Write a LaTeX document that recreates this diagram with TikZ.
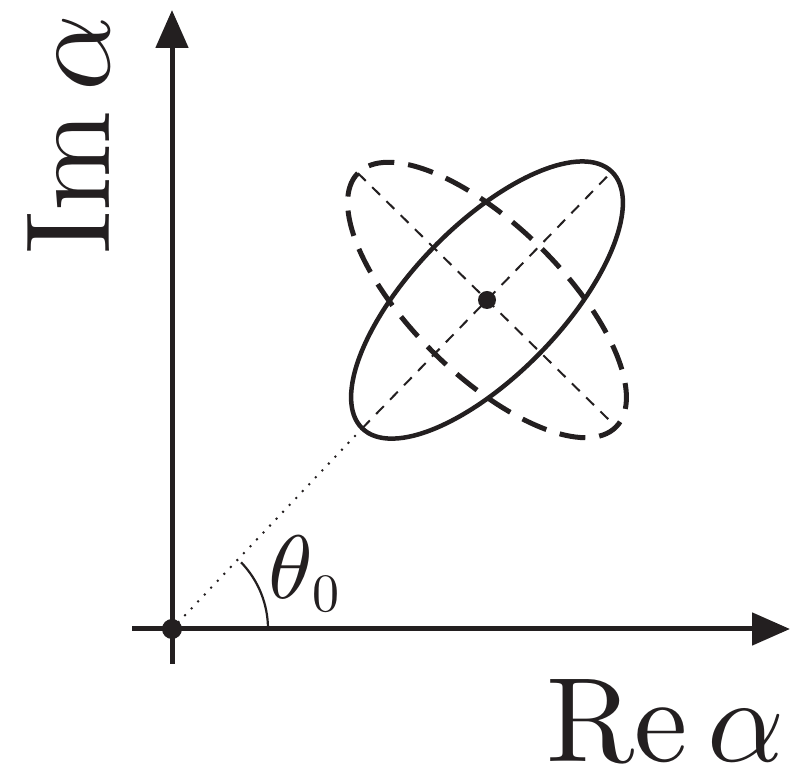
\documentclass[tikz,border=0pt]{standalone}
\usepackage{graphicx}
\usetikzlibrary{arrows.meta,calc}
\definecolor{ink}{HTML}{231F20}
\begin{document}
\begin{tikzpicture}[x=1pt,y=1pt,
  axisline/.style={line width=5pt, draw=ink, -{Triangle[length=38pt,width=32pt]}},
  ellsolid/.style={line width=4.5pt, draw=ink},
  elldash/.style={line width=5pt, draw=ink, dash pattern=on 26pt off 14pt},
  thindash/.style={line width=2pt, draw=ink, dash pattern=on 11pt off 9pt},
  dotline/.style={line width=2.8pt, draw=ink, line cap=round, dash pattern=on 0pt off 9.5pt},
  arcline/.style={line width=2.2pt, draw=ink},
  bigdot/.style={fill=ink},
  lbl/.style={inner sep=0pt, text=ink}]
\useasboundingbox (0,0) rectangle (796,773);
% key points
\coordinate (O) at (172,144);
\coordinate (C) at (487,473);
\coordinate (Ybot) at (172,109);
\coordinate (Ytop) at (172,763);
\coordinate (Xl) at (132,144);
\coordinate (Xr) at (790,144);
\coordinate (S1) at ($(C)+(45.8:179)$);
\coordinate (S2) at ($(C)+(225.8:179)$);
\coordinate (D1) at ($(C)+(135.5:181)$);
\coordinate (D2) at ($(C)+(-44.5:181)$);
\coordinate (A0) at ($(O)+(96,0)$);
% thin dashed axes of the ellipses
\draw[thindash] (S2) -- (S1);
\draw[thindash] (D1) -- (D2);
% ellipses
\draw[elldash, rotate around={135.5:(C)}] (C) ellipse [x radius=181pt, y radius=75pt];
\draw[ellsolid, rotate around={45.8:(C)}] (C) ellipse [x radius=179pt, y radius=75pt];
% dotted line from origin
\draw[dotline] (O) -- (S2);
% angle arc
\draw[arcline] (A0) arc[start angle=0, end angle=44, radius=96pt];
% axes
\draw[axisline] (Ybot) -- (Ytop);
\draw[axisline] (Xl) -- (Xr);
% dots
\fill[bigdot] (C) circle[radius=9pt];
\fill[bigdot] (O) circle[radius=10pt];
% labels
\node[lbl, anchor=base west] (re) at (546,11) {\scalebox{12}{$\mathrm{Re}\,\alpha$}};
\node[lbl, anchor=base west, rotate=90] (im) at (110,518) {\scalebox{12}{$\mathrm{Im}\,\alpha$}};
\node[lbl, anchor=base west] (th) at (268,174) {\scalebox{9}{$\theta$}\raisebox{-13pt}{\scalebox{5.4}{0}}};
\end{tikzpicture}
\end{document}
